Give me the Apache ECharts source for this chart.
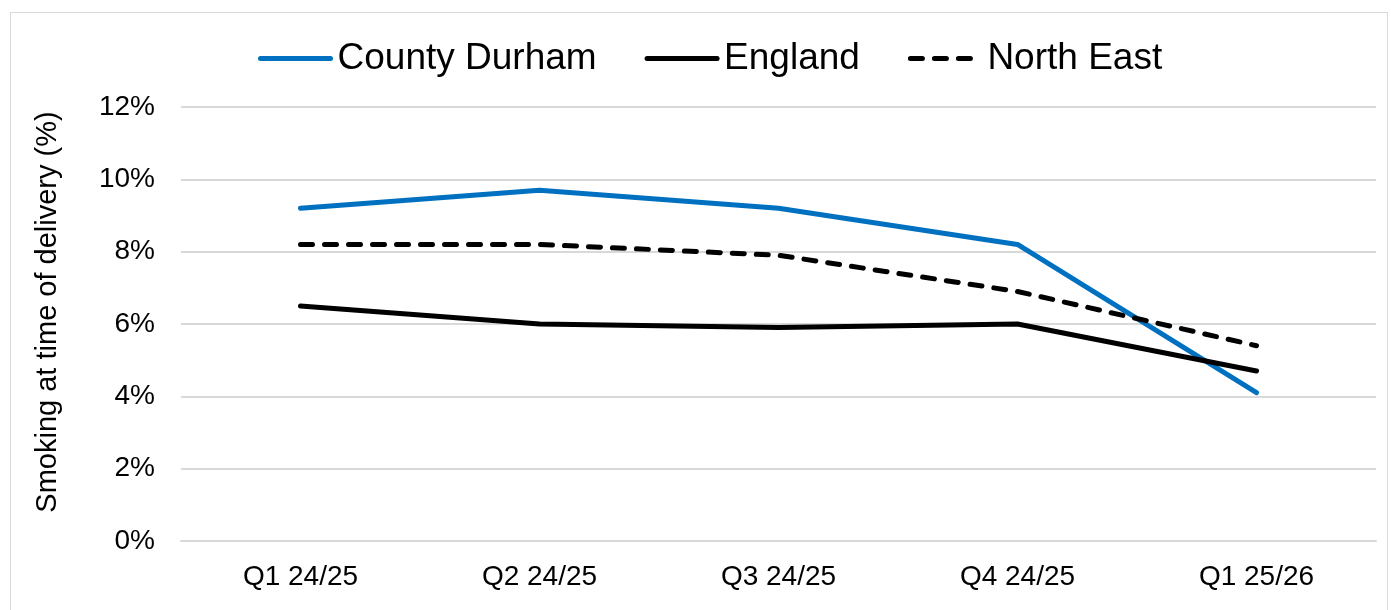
<!DOCTYPE html>
<html>
<head>
<meta charset="utf-8">
<script src="https://cdn.jsdelivr.net/npm/echarts@6/dist/echarts.min.js"></script>
<style>
  html, body { margin: 0; padding: 0; background: #fff; }
  #frame { position: absolute; left: 10px; top: 12px; width: 1378px; height: 640px; border: 1.5px solid #d9d9d9; box-sizing: border-box; }
  #chart { position: absolute; left: 0; top: 0; width: 1391px; height: 610px; }
</style>
</head>
<body>
<div id="frame"></div>
<div id="chart"></div>
<script>
// Quarterly smoking at time of delivery (%)
const quarters = ['Q1 24/25', 'Q2 24/25', 'Q3 24/25', 'Q4 24/25', 'Q1 25/26'];
const countyDurham = [9.2, 9.7, 9.2, 8.2, 4.1];
const england = [6.5, 6.0, 5.9, 6.0, 4.7];
const northEast = [8.2, 8.2, 7.9, 6.9, 5.4];
const yTicks = [0, 2, 4, 6, 8, 10, 12];

const FONT = 'Liberation Sans, Arial, sans-serif';
const chart = echarts.init(document.getElementById('chart'), null, { renderer: 'canvas' });

chart.setOption({
  animation: false,
  textStyle: { fontFamily: FONT },
  legend: {
    top: 35,
    left: 253,
    itemWidth: 70,
    itemHeight: 14,
    itemGap: 48,
    itemStyle: { opacity: 0 },
    lineStyle: { width: 5, cap: 'round' },
    textStyle: { fontSize: 37, color: '#000', fontFamily: FONT, padding: [0, 0, 0, 2] },
    data: ['County Durham', 'England', 'North East']
  },
  grid: { left: 181, right: 15, top: 107, bottom: 69 },
  xAxis: {
    type: 'category',
    data: quarters,
    boundaryGap: true,
    axisLine: { show: true, lineStyle: { color: '#d9d9d9', width: 2 } },
    axisTick: { show: false },
    axisLabel: { fontSize: 28, color: '#000', margin: 22, fontFamily: FONT }
  },
  yAxis: {
    type: 'value',
    min: yTicks[0],
    max: yTicks[yTicks.length - 1],
    interval: 2,
    axisLine: { show: false },
    axisTick: { show: false },
    splitLine: { lineStyle: { color: '#d9d9d9', width: 2 } },
    axisLabel: { fontSize: 28, color: '#000', margin: 26, fontFamily: FONT, formatter: v => v + '%' }
  },
  graphic: [{
    type: 'text',
    x: 48,
    y: 312,
    rotation: Math.PI / 2,
    style: {
      text: 'Smoking at time of delivery (%)',
      fontSize: 29,
      fontFamily: FONT,
      fill: '#000',
      align: 'center',
      verticalAlign: 'middle'
    }
  }],
  series: [
    {
      name: 'County Durham', type: 'line', data: countyDurham,
      symbol: 'none',
      lineStyle: { color: '#0070c0', width: 5, cap: 'round', join: 'round' },
      itemStyle: { color: '#0070c0' }
    },
    {
      name: 'England', type: 'line', data: england,
      symbol: 'none',
      lineStyle: { color: '#000', width: 5, cap: 'round', join: 'round' },
      itemStyle: { color: '#000' }
    },
    {
      name: 'North East', type: 'line', data: northEast,
      symbol: 'none',
      lineStyle: { color: '#000', width: 5, type: [12, 12], cap: 'round', join: 'round' },
      itemStyle: { color: '#000' }
    }
  ]
});
</script>
</body>
</html>
